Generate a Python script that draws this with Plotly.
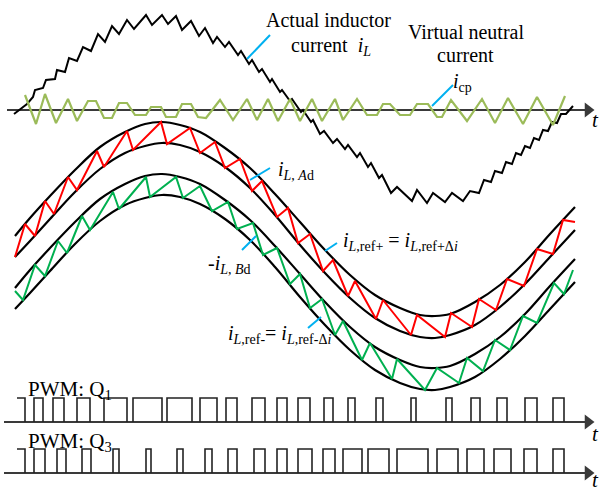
import plotly.graph_objects as go

# ---------------- data (pixel-like units: x = time, y = level, downwards) -------------
ENV_X = [15, 30, 50, 75, 100, 125, 145, 162, 180, 200, 225, 250, 275, 300, 325, 350, 375, 400, 420, 435, 450, 475, 500, 525, 550, 575]
RED_UPPER = [236, 218, 196, 170, 147, 132, 124, 122, 125, 132, 148, 168, 194, 222, 250, 275, 295, 308, 315, 316, 314, 302, 285, 262, 234, 207]
RED_LOWER = [257, 241, 219, 192, 169, 153, 146, 143, 145, 152, 167, 188, 215, 245, 273, 298, 318, 331, 337, 338, 335, 325, 307, 284, 257, 230]
GRN_UPPER = [288, 270, 248, 222, 199, 184, 176, 174, 177, 184, 200, 220, 246, 274, 302, 327, 347, 360, 367, 368, 366, 354, 337, 314, 286, 259]
GRN_LOWER = [309, 293, 271, 244, 221, 205, 198, 195, 197, 204, 219, 240, 267, 297, 325, 350, 370, 383, 389, 390, 387, 377, 359, 336, 309, 282]

RED_ZIG_X = [15, 25, 35, 45, 54, 68, 77, 97, 104, 127, 133, 161, 167, 190, 200, 215, 225, 240, 252, 262, 277, 288, 298, 310,
             323, 333, 348, 355, 376, 383, 411, 417, 445, 451, 472, 479, 496, 507, 524, 537, 553, 563, 575]
RED_ZIG_Y = [257, 224, 236, 201, 214, 177, 190, 151, 167, 131, 150, 122, 144, 128, 153, 142, 168, 159, 191, 181, 217, 208, 243, 234,
             271, 260, 296, 281, 319, 300, 335, 315, 337, 313, 327, 299, 310, 279, 286, 249, 254, 220, 222]

GRN_ZIG_X = [15, 23, 35, 45, 58, 67, 82, 90, 113, 119, 146, 150, 176, 183, 200, 212, 228, 237, 253, 263, 277, 290, 300, 310,
             322, 335, 343, 362, 370, 392, 397, 425, 437, 459, 467, 483, 495, 510, 523, 537, 554, 564, 573]
GRN_ZIG_Y = [291, 300, 265, 276, 241, 253, 216, 230, 192, 209, 177, 197, 177, 198, 186, 211, 202, 229, 223, 255, 248, 284, 274, 308,
             299, 335, 321, 360, 343, 379, 359, 390, 368, 383, 358, 371, 340, 350, 316, 323, 283, 294, 270]

IL_X = [14, 27, 33, 35, 43, 46, 55, 57, 65, 69, 77, 83, 91, 98, 105, 112, 119, 127, 134, 146, 152, 162, 168, 176, 182, 191, 199, 205,
        213, 217, 225, 229, 238, 241, 249, 252, 259, 262, 270, 272, 280, 282, 290, 292, 301, 303, 311, 313, 320, 324, 333, 337,
        345, 348, 357, 360, 368, 371, 379, 382, 391, 397, 412, 417, 427, 433, 445, 452, 463, 470, 479, 484, 491, 495, 502, 506,
        512, 516, 521, 525, 530, 534, 539, 543, 548, 552, 557, 561, 566, 573]
IL_Y = [114, 104, 97, 90, 88, 80, 79, 70, 72, 58, 61, 47, 51, 34, 42, 26, 34, 20, 29, 15, 25, 15, 24, 16, 30, 21, 36, 28,
        43, 37, 47, 42, 55, 51, 64, 60, 72, 69, 82, 79, 92, 90, 101, 99, 112, 110, 122, 120, 134, 131, 143, 139,
        149, 145, 157, 153, 167, 163, 178, 175, 193, 187, 201, 190, 203, 193, 202, 193, 201, 191, 193, 180, 182, 171, 173, 162,
        164, 153, 155, 146, 148, 138, 140, 130, 131, 122, 123, 114, 114, 106]

ICP_X = [25, 36, 45, 56, 68, 77, 88, 96, 104, 112, 119, 127, 135, 146, 151, 161, 166, 176, 182, 191, 198, 206, 220, 233, 247,
         257, 268, 278, 290, 300, 312, 322, 335, 343, 357, 367, 377, 383, 390, 400, 410, 417, 428, 437, 442, 451, 467, 482,
         495, 508, 523, 537, 553, 565]
ICP_Y = [95, 124, 94, 123, 99, 121, 101, 101, 118, 118, 103, 103, 115, 115, 107, 107, 117, 117, 104, 104, 117, 118, 100, 120, 99,
         120, 99, 121, 99, 121, 99, 121, 99, 120, 99, 115, 115, 104, 104, 115, 115, 104, 104, 117, 117, 100, 121, 99,
         123, 98, 124, 97, 125, 96]

Q1_PULSES = [(17, 25), (34, 43), (53, 64), (77, 90), (104, 127), (133, 162), (167, 192), (200, 217), (226, 237), (252, 265),
             (277, 287), (298, 310), (324, 333), (348, 355), (376, 383), (411, 416), (446, 452), (471, 480), (497, 507),
             (525, 537), (553, 564)]
Q3_PULSES = [(17, 25), (34, 45), (57, 66), (82, 91), (113, 119), (146, 151), (177, 183), (205, 212), (228, 237), (254, 265),
             (277, 287), (298, 312), (323, 335), (343, 362), (368, 389), (397, 428), (437, 458), (467, 484), (494, 511),
             (524, 537), (553, 564)]

AXIS_START = [7, 4, 4]
AXIS_END = 586
AXIS_LEVEL = [110, 422, 473]
PULSE_HIGH = [398, 449]

LEADERS = [((247, 59), (270, 35)), ((432, 106), (453, 85)), ((250, 180), (270, 168)),
           ((242, 250), (256, 236)), ((325, 251), (337, 243)), ((308, 328), (321, 317))]

FONT = "Liberation Serif"
BLACK = "#000000"
RED = "#FF0000"
GREEN = "#00B050"
OLIVE = "#9BBB59"
BLUE = "#00B0F0"
AXIS_C = "#3a3a3a"

fig = go.Figure()

def line(x, y, color, width=2, shape="linear"):
    fig.add_trace(go.Scatter(x=x, y=y, mode="lines", line=dict(color=color, width=width, shape=shape),
                             hoverinfo="skip"))

# envelopes
for env in (RED_UPPER, RED_LOWER, GRN_UPPER, GRN_LOWER):
    line(ENV_X, env, BLACK, 2.2, "spline")
line(RED_ZIG_X, RED_ZIG_Y, RED, 2)
line(GRN_ZIG_X, GRN_ZIG_Y, GREEN, 2)

# time axes
for xs, lvl in zip(AXIS_START, AXIS_LEVEL):
    line([xs, AXIS_END], [lvl, lvl], AXIS_C, 2)
fig.add_trace(go.Scatter(x=[AXIS_END + 2] * 3, y=AXIS_LEVEL, mode="markers",
                         marker=dict(symbol="triangle-right", size=13, color=AXIS_C, line=dict(width=0)),
                         hoverinfo="skip"))

# inductor current and virtual neutral current
line(IL_X, IL_Y, BLACK, 2)
line(ICP_X, ICP_Y, OLIVE, 2.2)

# PWM
for pulses, hi, lo in ((Q1_PULSES, PULSE_HIGH[0], AXIS_LEVEL[1]), (Q3_PULSES, PULSE_HIGH[1], AXIS_LEVEL[2])):
    px, py = [], []
    for i, (a, b) in enumerate(pulses):
        if i == 0:
            px += [a, b, b, None]
            py += [hi, hi, lo, None]
        else:
            px += [a, a, b, b, None]
            py += [lo, hi, hi, lo, None]
    line(px, py, "#222222", 1.6)

# leader lines
for (p, q) in LEADERS:
    line([p[0], q[0]], [p[1], q[1]], BLUE, 2)

def txt(x, y, s, anchor="center", size=20):
    fig.add_annotation(x=x, y=y, xref="x", yref="y", text=s, showarrow=False, xanchor=anchor, yanchor="middle",
                       font=dict(family=FONT, size=size, color=BLACK))

txt(328, 20, "Actual inductor")
txt(331, 46, "current  <i>i</i><sub><i>L</i></sub>")
txt(466, 32, "Virtual neutral")
txt(465, 55, "current")
txt(462, 82, "<i>i</i><sub>cp</sub>")
txt(276, 170, "<i>i</i><sub><i>L</i>, <i>A</i>d</sub>", "left")
txt(206, 264, "-<i>i</i><sub><i>L</i>, <i>B</i>d</sub>", "left")
txt(341, 241, "<i>i</i><sub><i>L</i>,ref+</sub> = <i>i</i><sub><i>L</i>,ref+Δ<i>i</i></sub>", "left")
txt(226, 334, "<i>i</i><sub><i>L</i>,ref-</sub>= <i>i</i><sub><i>L</i>,ref-Δ<i>i</i></sub>", "left")
txt(26, 390, "PWM: Q<sub>1</sub>", "left", 21)
txt(26, 442, "PWM: Q<sub>3</sub>", "left", 21)
for y in (120, 434, 480):
    txt(595, y, "<i>t</i>", size=21)

fig.update_layout(width=600, height=493, margin=dict(l=0, r=0, t=0, b=0),
                  paper_bgcolor="white", plot_bgcolor="white", showlegend=False,
                  xaxis=dict(range=[0, 600], visible=False, fixedrange=True),
                  yaxis=dict(range=[493, 0], visible=False, fixedrange=True))
fig.write_html("out.html")
